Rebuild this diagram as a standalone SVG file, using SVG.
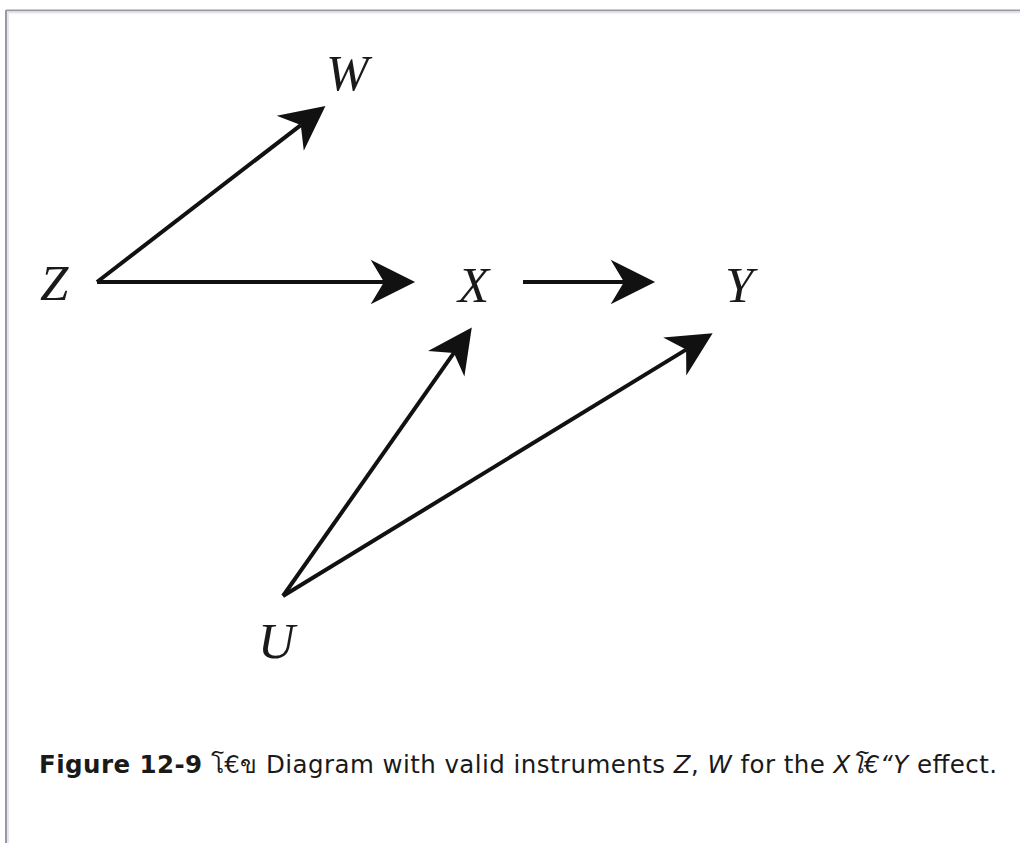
<svg xmlns="http://www.w3.org/2000/svg" width="1020" height="843" viewBox="0 0 1020 843">
  <style>
    .lbl { font-family: "Liberation Serif", "Times New Roman", serif; font-style: italic; font-size: 51px; fill: #1a1a1a; }
    .edge { stroke: #111; stroke-width: 4; fill: none; }
    .cap { font-family: "DejaVu Sans", "Noto Sans", sans-serif; font-size: 24.5px; fill: #1a1a1a; }
  </style>
  <defs>
    <marker id="ah" markerUnits="userSpaceOnUse" markerWidth="50" markerHeight="50" viewBox="-15 -22 45 44" refX="0" refY="0" orient="auto">
      <path d="M28,0 L-12,-20 L0,0 L-12,20 Z" fill="#111"/>
    </marker>
  </defs>
  <rect width="1020" height="843" fill="#ffffff"/>
  <g id="frame">
    <line x1="6" y1="10.5" x2="1020" y2="10.5" stroke="#9a9aa2" stroke-width="2"/>
    <line x1="6" y1="12.5" x2="1020" y2="12.5" stroke="#e6e6f0" stroke-width="2"/>
    <line x1="6" y1="10" x2="6" y2="843" stroke="#9a9aa2" stroke-width="2"/>
    <line x1="8" y1="12" x2="8" y2="843" stroke="#e6e6f0" stroke-width="2"/>
  </g>
  <g id="connectors">
    <line class="edge" x1="97" y1="282" x2="384" y2="282" marker-end="url(#ah)"/>
    <line class="edge" x1="97" y1="282" x2="300.8" y2="125.1" marker-end="url(#ah)"/>
    <line class="edge" x1="523" y1="282" x2="624" y2="282" marker-end="url(#ah)"/>
    <line class="edge" x1="283" y1="596" x2="453.9" y2="352.9" marker-end="url(#ah)"/>
    <line class="edge" x1="283" y1="596" x2="686.1" y2="349.6" marker-end="url(#ah)"/>
  </g>
  <g id="node-Z"><text class="lbl" x="40" y="300">Z</text></g>
  <g id="node-W"><text class="lbl" x="326" y="90">W</text></g>
  <g id="node-X"><text class="lbl" x="458" y="302">X</text></g>
  <g id="node-Y"><text class="lbl" x="725" y="302">Y</text></g>
  <g id="node-U"><text class="lbl" x="258" y="658">U</text></g>
  <g id="caption">
    <text class="cap" x="39" y="773" textLength="958" lengthAdjust="spacing"><tspan font-weight="bold">Figure 12-9</tspan> โ€ข Diagram with valid instruments <tspan font-style="italic">Z</tspan>, <tspan font-style="italic">W</tspan> for the <tspan font-style="italic">Xโ€“Y</tspan> effect.</text>
  </g>
</svg>
